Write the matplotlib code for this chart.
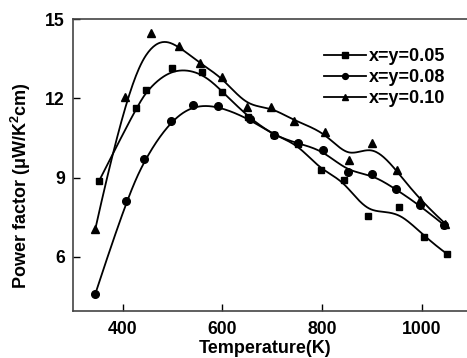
import numpy as np
import matplotlib
matplotlib.use("Agg")
import matplotlib.pyplot as plt
from matplotlib.lines import Line2D

plt.rcParams['font.family'] = ['Liberation Sans', 'DejaVu Sans']
plt.rcParams['font.weight'] = 'bold'
plt.rcParams['mathtext.fontset'] = 'custom'
plt.rcParams['mathtext.rm'] = 'Liberation Sans:bold'
plt.rcParams['mathtext.bf'] = 'Liberation Sans:bold'
plt.rcParams['mathtext.default'] = 'bf'

labels = ["x=y=0.05", "x=y=0.08", "x=y=0.10"]
markers = ["s", "o", "^"]

T_005 = [352, 427, 447, 499, 558, 600, 652, 703, 751, 797, 844, 893, 955, 1004, 1050]
PF_005 = [8.86, 11.65, 12.31, 13.16, 13.0, 12.25, 11.28, 10.6, 10.27, 9.28, 8.9, 7.54, 7.87, 6.75, 6.12]

T_008 = [345, 406, 442, 496, 541, 591, 655, 703, 751, 801, 851, 900, 948, 996, 1045]
PF_008 = [4.61, 8.11, 9.69, 11.15, 11.74, 11.72, 11.21, 10.6, 10.29, 10.04, 9.22, 9.12, 8.56, 7.95, 7.2]

T_010 = [345, 404, 456, 513, 554, 600, 649, 697, 744, 806, 853, 900, 950, 996, 1047]
PF_010 = [7.07, 12.06, 14.46, 13.98, 13.32, 12.79, 11.68, 11.68, 11.14, 10.73, 9.68, 10.29, 9.28, 8.14, 7.26]

series = [(T_005, PF_005), (T_008, PF_008), (T_010, PF_010)]

xticks = [400, 600, 800, 1000]
yticks = [6, 9, 12, 15]


def bspline(px, py, k=3, n=500):
    P = np.column_stack([px, py]).astype(float)
    m = len(P)
    knots = np.concatenate([np.zeros(k), np.linspace(0, 1, m - k + 1), np.ones(k)])
    t = np.linspace(0, 1, n)
    nb = len(knots) - 1
    B = np.zeros((n, nb))
    for i in range(nb):
        B[:, i] = (knots[i] <= t) & (t < knots[i + 1])
    last = np.where(knots[:-1] < knots[1:])[0][-1]
    B[t == knots[-1], last] = 1
    for d in range(1, k + 1):
        Bn = np.zeros((n, nb - d))
        for i in range(nb - d):
            den1 = knots[i + d] - knots[i]
            den2 = knots[i + d + 1] - knots[i + 1]
            term = np.zeros(n)
            if den1 > 0:
                term += (t - knots[i]) / den1 * B[:, i]
            if den2 > 0:
                term += (knots[i + d + 1] - t) / den2 * B[:, i + 1]
            Bn[:, i] = term
        B = Bn
    C = B @ P
    return C[:, 0], C[:, 1]


W, H = 467, 358
fig = plt.figure(figsize=(W / 100, H / 100), dpi=100)
left, right, top, bottom = 73, 471.6, 19, 311
ax = fig.add_axes([left / W, (H - bottom) / H, (right - left) / W, (bottom - top) / H])

msizes = [5.0, 5.5, 6.0]
for (tx, ty), mk, ms in zip(series, markers, msizes):
    cx, cy = bspline(tx, ty)
    ax.plot(cx, cy, color='black', lw=1.3, zorder=2)
    ax.plot(tx, ty, linestyle='none', marker=mk, color='black', ms=ms, zorder=3)

ax.set_xlim(300, 1100)
ax.set_ylim(3.95, 15)
ax.set_xticks(xticks)
ax.set_yticks(yticks)
ax.tick_params(direction='in', length=5, width=1, labelsize=12.7, colors='black')
ax.tick_params(axis='y', pad=6)
ax.tick_params(axis='x', pad=7)
for lab in ax.get_xticklabels() + ax.get_yticklabels():
    lab.set_fontweight('bold')
for s in ['left', 'top', 'bottom']:
    ax.spines[s].set_color('#444444')
    ax.spines[s].set_linewidth(1.2)
ax.spines['right'].set_visible(False)

ax.set_xlabel('Temperature(K)', fontsize=13, fontweight='bold')
ax.xaxis.set_label_coords(0.483, -0.098)
ax.set_ylabel(r'Power factor ($\mathbf{\mu}$W/K$^{2}$cm)', fontsize=13, fontweight='bold')
ax.yaxis.set_label_coords(-0.10, 0.43)

handles = [Line2D([0], [0], color='black', lw=1.3, marker=mk, ms=s)
           for mk, s in zip(markers, [3.8, 4.2, 4.6])]
fig.legend(handles, labels, loc='upper left', bbox_to_anchor=(315 / W, 1 - 39 / H),
           frameon=False, handlelength=2.35, handletextpad=0.15,
           labelspacing=0.22, borderpad=0, prop={'weight': 'bold', 'size': 13})

fig.savefig('out.png', dpi=100)
